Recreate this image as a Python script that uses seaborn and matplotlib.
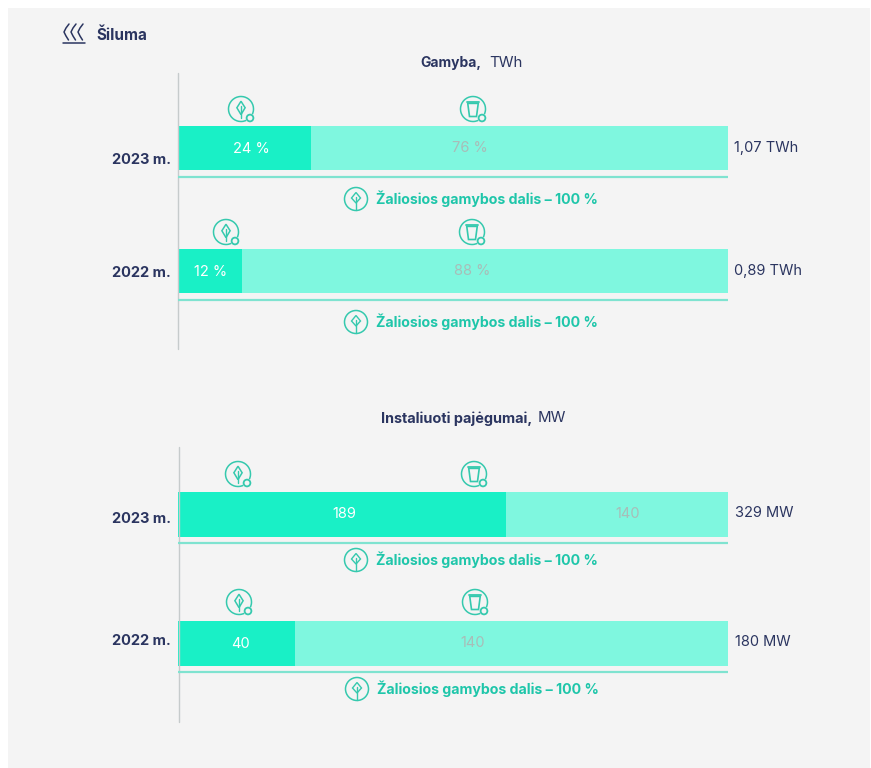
import matplotlib
matplotlib.use("Agg")
import matplotlib.pyplot as plt
import seaborn as sns
import pandas as pd
import numpy as np
from matplotlib.patches import Rectangle, Circle, Arc, Polygon

sns.set_theme(style="white")
plt.rcParams['font.family'] = ['Inter', 'DejaVu Sans']

W, H = 871, 768
NAVY = "#2b3560"; TEAL = "#1fc6aa"; DARK = "#19f0c6"; LIGHT = "#7ff7df"; LINE = "#7fe3d0"; ICON = "#35c9ae"
GREY = "#a8bdb8"

years = ["2023 m.", "2022 m."]
# Panel 1: generation shares (%)
gen_green = [24.2, 11.6]
gen_total = [100, 100]
gen_green_labels = ["24 %", "12 %"]
gen_rest_labels = ["76 %", "88 %"]
gen_totals = ["1,07 TWh", "0,89 TWh"]
# Panel 2: installed capacity, drawn share of the bar (%)
cap_green = [59.6, 21.3]
cap_total = [100, 100]
cap_green_labels = ["189", "40"]
cap_rest_labels = ["140", "140"]
cap_totals = ["329 MW", "180 MW"]

fig = plt.figure(figsize=(W/100, H/100), dpi=100, facecolor="white")

def px_axes(x0, y0, x1, y1, **kw):
    return fig.add_axes([x0/W, 1-y1/H, (x1-x0)/W, (y1-y0)/H], **kw)

bg = fig.add_axes([0, 0, 1, 1], zorder=0)
bg.set_xlim(0, W); bg.set_ylim(H, 0); bg.axis("off")
bg.add_patch(Rectangle((8, 8), 862, 760, fc="#f4f4f4", ec="none"))

def panel(top, unit, barh_px, total, green):
    ax = px_axes(178, top, 728, top + 2*unit, zorder=1)
    ax.patch.set_alpha(0)
    df = pd.DataFrame({"year": years, "total": total, "green": green})
    w = barh_px / unit
    sns.barplot(data=df, y="year", x="total", color=LIGHT, saturation=1, width=w, ax=ax, linewidth=0)
    sns.barplot(data=df, y="year", x="green", color=DARK, saturation=1, width=w, ax=ax, linewidth=0)
    ax.set_xlim(0, 100); ax.set_ylim(1.5, -0.5)
    ax.axis("off")
    return ax

panel(86.5, 123, 44, gen_total, gen_green)
panel(449.5, 129, 45, cap_total, cap_green)

ov = fig.add_axes([0, 0, 1, 1], zorder=2)
ov.set_xlim(0, W); ov.set_ylim(H, 0); ov.axis("off")
ov.patch.set_alpha(0)

def T(x, y, s, size=10.5, color=NAVY, weight="normal", ha="center"):
    return ov.text(x, y, s, fontsize=size, color=color, fontweight=weight, ha=ha, va="center")

# axis lines and underlines
for x, y0, y1 in [(178, 73, 349), (178.5, 447, 722)]:
    ov.plot([x, x], [y0, y1], color="#c6cbcc", lw=1, zorder=0.5)
for y in [176.5, 299.5, 542.5, 671.5]:
    ov.plot([178, 728], [y, y], color=LINE, lw=1.6, solid_capstyle="butt")

# icons
def plug(cx, cy, r=12.5):
    ov.add_patch(Arc((cx, cy), 2*r, 2*r, theta1=65, theta2=25, color=ICON, lw=1.1))
    ov.add_patch(Circle((cx + r*0.72, cy + r*0.72), r*0.27, fc="none", ec=ICON, lw=1.3))

def leaf_icon(cx, cy, r=12.5):
    plug(cx, cy, r)
    ov.add_patch(Polygon([(cx, cy-r*0.62), (cx+r*0.33, cy-r*0.1), (cx, cy+r*0.45), (cx-r*0.33, cy-r*0.1)],
                         closed=True, fc="none", ec=ICON, lw=1.1))
    ov.plot([cx, cx], [cy-r*0.25, cy+r*0.72], color=ICON, lw=1)

def cup_icon(cx, cy, r=12.5):
    plug(cx, cy, r)
    ov.add_patch(Polygon([(cx-r*0.42, cy-r*0.45), (cx+r*0.42, cy-r*0.45), (cx+r*0.28, cy+r*0.6), (cx-r*0.28, cy+r*0.6)],
                         closed=True, fc="none", ec=ICON, lw=1.2))
    ov.plot([cx-r*0.5, cx+r*0.5], [cy-r*0.55, cy-r*0.55], color=ICON, lw=1.3)

for (lx, cx, y) in [(241, 473, 109), (226, 472, 232), (238, 474, 474), (239, 475, 602)]:
    leaf_icon(lx, y)
    cup_icon(cx, y)

def green_note(x, y):
    ov.add_patch(Circle((x, y), 11.5, fc="none", ec=ICON, lw=1.1))
    ov.add_patch(Polygon([(x, y-6.5), (x+4.5, y-1), (x, y+4), (x-4.5, y-1)], closed=True, fc="none", ec=ICON, lw=1))
    ov.plot([x, x], [y-2, y+11], color=ICON, lw=1)

for x, y in [(356, 199), (356, 322), (356, 560), (357, 689)]:
    green_note(x, y)
    T(x+20, y-0.5, "Žaliosios gamybos dalis – 100 %", size=10.2, color=TEAL, weight="bold", ha="left")

# heat icon and headings
for dx in [66, 73, 80]:
    yy = np.array([24, 28, 32, 36, 40])
    xx = dx + np.array([3, 0, -2, 0, 2.5])
    ov.plot(xx, yy, color=NAVY, lw=1.1)
ov.plot([63, 85], [42.5, 42.5], color=NAVY, lw=1.1)
T(96, 35, "Šiluma", size=11, weight="bold", ha="left")

T(420, 63, "Gamyba,", size=10, weight="bold", ha="left")
T(489, 63, "TWh", size=10.8, ha="left")
T(381, 418.5, "Instaliuoti pajėgumai,", size=10.4, weight="bold", ha="left")
T(538, 418.5, "MW", size=10.8, ha="left")

# year labels
for y, s in zip([160, 273, 519, 641], years + years):
    T(171, y, s, size=10.5, weight="bold", ha="right")

# value labels
for (x, y, s) in zip([251, 211, 344, 240], [149, 272, 514, 644], gen_green_labels + cap_green_labels):
    T(x, y, s, size=10.5, color="white")
for (x, y, s) in zip([470, 472, 628, 473], [148, 271, 514, 643], gen_rest_labels + cap_rest_labels):
    T(x, y, s, size=10.5, color=GREY)
for (x, y, s) in zip([734, 734, 735, 735], [148, 271, 513, 642], gen_totals + cap_totals):
    T(x, y, s, size=10.5, ha="left")

fig.savefig("out.png", dpi=100, facecolor="white")
